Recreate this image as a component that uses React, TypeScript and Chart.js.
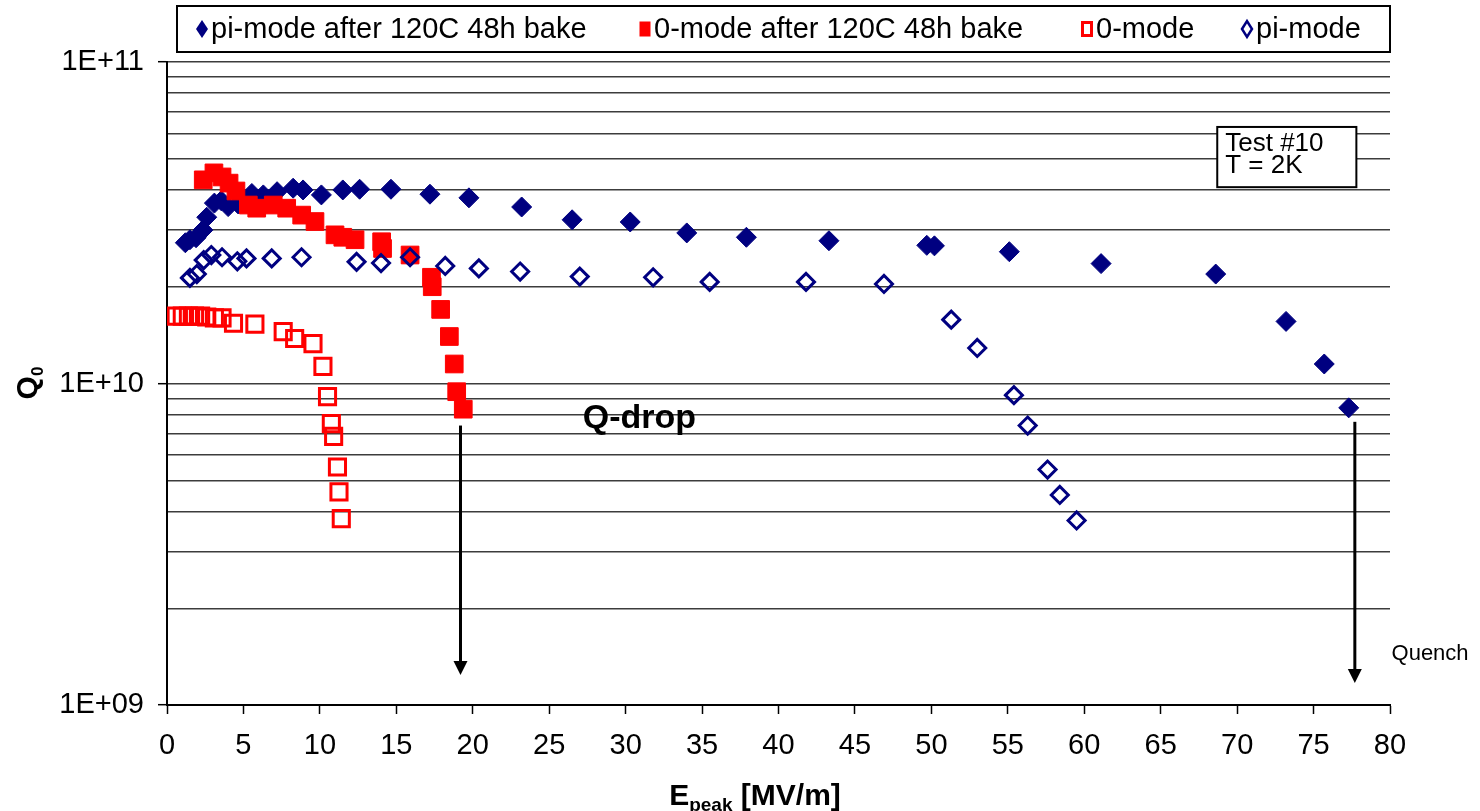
import React, { useEffect, useRef } from 'react';
import { Chart, registerables } from 'chart.js';

Chart.register(...registerables);

const NAVY = '#000080';
const RED = '#ff0000';
const SANS = "'Liberation Sans', Arial, sans-serif";

// Series names (legend order)
const seriesNames = ['pi-mode after 120C 48h bake', '0-mode after 120C 48h bake', '0-mode', 'pi-mode'];

// pi-mode after 120C 48h bake
const piBakedE = [1.2, 1.5, 1.9, 2.35, 2.6, 3.1, 3.55, 4.0, 4.65, 5.55, 6.3, 7.2, 8.25, 8.9, 10.1, 11.5, 12.6, 14.65, 17.2, 19.75, 23.2, 26.5, 30.3, 34.0, 37.9, 43.3, 49.7, 50.2, 55.1, 61.1, 68.6, 73.2, 75.7, 77.3];
const piBakedQ = [2.74e10, 2.8e10, 2.84e10, 3.0e10, 3.29e10, 3.64e10, 3.7e10, 3.55e10, 3.62e10, 3.9e10, 3.86e10, 3.95e10, 4.05e10, 4.0e10, 3.86e10, 4.0e10, 4.02e10, 4.02e10, 3.88e10, 3.78e10, 3.54e10, 3.23e10, 3.18e10, 2.94e10, 2.85e10, 2.78e10, 2.69e10, 2.68e10, 2.57e10, 2.36e10, 2.19e10, 1.56e10, 1.15e10, 8.4e9];

// 0-mode after 120C 48h bake
const zeroBakedE = [2.37, 3.07, 3.6, 4.06, 4.51, 5.32, 5.87, 6.95, 7.83, 8.81, 9.68, 10.99, 11.5, 12.3, 14.04, 14.1, 15.9, 17.3, 17.35, 17.9, 18.47, 18.79, 18.95, 19.38];
const zeroBakedQ = [4.3e10, 4.52e10, 4.39e10, 4.2e10, 3.97e10, 3.59e10, 3.51e10, 3.59e10, 3.51e10, 3.34e10, 3.19e10, 2.9e10, 2.85e10, 2.8e10, 2.76e10, 2.63e10, 2.51e10, 2.14e10, 2.0e10, 1.7e10, 1.4e10, 1.15e10, 9.43e9, 8.32e9];

// 0-mode
const zeroE = [0.6, 1.0, 1.4, 1.8, 2.2, 2.6, 3.1, 3.6, 4.35, 5.75, 7.6, 8.35, 9.55, 10.2, 10.5, 10.75, 10.9, 11.15, 11.25, 11.4];
const zeroQ = [1.62e10, 1.62e10, 1.62e10, 1.62e10, 1.62e10, 1.61e10, 1.6e10, 1.6e10, 1.54e10, 1.53e10, 1.45e10, 1.38e10, 1.33e10, 1.13e10, 9.1e9, 7.5e9, 6.85e9, 5.5e9, 4.6e9, 3.8e9];

// pi-mode
const piE = [1.5, 1.95, 2.4, 2.9, 3.6, 4.6, 5.2, 6.85, 8.8, 12.4, 14.0, 15.9, 18.2, 20.4, 23.1, 27.0, 31.8, 35.5, 41.8, 46.9, 51.3, 53.0, 55.4, 56.3, 57.6, 58.4, 59.5];
const piQ = [2.13e10, 2.19e10, 2.42e10, 2.51e10, 2.47e10, 2.4e10, 2.45e10, 2.45e10, 2.47e10, 2.39e10, 2.37e10, 2.47e10, 2.32e10, 2.28e10, 2.23e10, 2.15e10, 2.14e10, 2.07e10, 2.07e10, 2.04e10, 1.58e10, 1.29e10, 9.2e9, 7.4e9, 5.4e9, 4.5e9, 3.75e9];

// Axis ticks
const xTickStep = 5;
const yTicks = [1e9, 2e9, 3e9, 4e9, 5e9, 6e9, 7e9, 8e9, 9e9, 1e10, 2e10, 3e10, 4e10, 5e10, 6e10, 7e10, 8e10, 9e10, 1e11];

// Annotations: arrows (Q-drop and Quench), labels and the test box
const arrowE = [19.2, 77.7];
const arrowFromQ = [7.4e9, 7.6e9];
const arrowToQ = [1.24e9, 1.17e9];
const qDropLabel = { text: 'Q-drop', e: 30.9, q: 7.8e9 };
const quenchLabel = { text: 'Quench', e: 80.1, q: 1.44e9 };
const testBox = { lines: ['Test #10', 'T = 2K'], e0: 68.7, e1: 77.8, q0: 6.28e10, q1: 4.08e10 };

const pts = (xs: number[], ys: number[]) => xs.map((x, i) => ({ x, y: ys[i] }));

const isDecade = (v: number) => Math.abs(Math.log10(v) - Math.round(Math.log10(v))) < 1e-9;

const decorPlugin = {
  id: 'decor',
  afterDraw(chart: any) {
    const ctx: CanvasRenderingContext2D = chart.ctx;
    const xs = chart.scales.x;
    const ys = chart.scales.y;
    ctx.save();

    // Legend box
    ctx.lineWidth = 2;
    ctx.strokeStyle = '#000';
    ctx.fillStyle = '#fff';
    ctx.fillRect(177, 6, 1213, 46);
    ctx.strokeRect(177, 6, 1213, 46);
    const ly = 29;
    const mx = [202, 645, 1087, 1247];
    // markers
    ctx.fillStyle = NAVY;
    ctx.beginPath();
    ctx.moveTo(mx[0] - 6, ly); ctx.lineTo(mx[0], ly - 9); ctx.lineTo(mx[0] + 6, ly); ctx.lineTo(mx[0], ly + 9);
    ctx.closePath(); ctx.fill();
    ctx.fillStyle = RED;
    ctx.fillRect(mx[1] - 5.5, ly - 7.5, 11, 15);
    ctx.strokeStyle = RED; ctx.lineWidth = 3;
    ctx.strokeRect(mx[2] - 4.5, ly - 6.5, 9, 13);
    ctx.strokeStyle = NAVY; ctx.lineWidth = 2.5;
    ctx.beginPath();
    ctx.moveTo(mx[3] - 5, ly); ctx.lineTo(mx[3], ly - 8); ctx.lineTo(mx[3] + 5, ly); ctx.lineTo(mx[3], ly + 8);
    ctx.closePath(); ctx.stroke();
    ctx.fillStyle = '#000';
    ctx.font = `29px ${SANS}`;
    ctx.textBaseline = 'middle';
    ctx.textAlign = 'left';
    seriesNames.forEach((n, i) => ctx.fillText(n, mx[i] + 9, ly + 1));

    // Arrows
    ctx.strokeStyle = '#000';
    ctx.fillStyle = '#000';
    ctx.lineWidth = 3;
    arrowE.forEach((e, i) => {
      const x = xs.getPixelForValue(e);
      const y0 = ys.getPixelForValue(arrowFromQ[i]);
      const y1 = ys.getPixelForValue(arrowToQ[i]);
      ctx.beginPath();
      ctx.moveTo(x, y0);
      ctx.lineTo(x, y1 - 12);
      ctx.stroke();
      ctx.beginPath();
      ctx.moveTo(x - 7, y1 - 14);
      ctx.lineTo(x + 7, y1 - 14);
      ctx.lineTo(x, y1);
      ctx.closePath();
      ctx.fill();
    });

    // Q-drop label
    ctx.font = `bold 34px ${SANS}`;
    ctx.textAlign = 'center';
    ctx.textBaseline = 'middle';
    ctx.fillText(qDropLabel.text, xs.getPixelForValue(qDropLabel.e), ys.getPixelForValue(qDropLabel.q));

    // Quench label
    ctx.font = `22px ${SANS}`;
    ctx.textAlign = 'left';
    ctx.fillText(quenchLabel.text, xs.getPixelForValue(quenchLabel.e), ys.getPixelForValue(quenchLabel.q));

    // Test box
    const bx0 = xs.getPixelForValue(testBox.e0);
    const bx1 = xs.getPixelForValue(testBox.e1);
    const by0 = ys.getPixelForValue(testBox.q0);
    const by1 = ys.getPixelForValue(testBox.q1);
    ctx.fillStyle = '#fff';
    ctx.fillRect(bx0, by0, bx1 - bx0, by1 - by0);
    ctx.lineWidth = 2;
    ctx.strokeRect(bx0, by0, bx1 - bx0, by1 - by0);
    ctx.fillStyle = '#000';
    ctx.font = `26px ${SANS}`;
    ctx.textBaseline = 'middle';
    ctx.fillText(testBox.lines[0], bx0 + 8, by0 + 17);
    ctx.fillText(testBox.lines[1], bx0 + 8, by0 + 39);

    // Y axis title: Q with subscript 0
    ctx.save();
    ctx.translate(26, 383);
    ctx.rotate(-Math.PI / 2);
    ctx.textAlign = 'left';
    ctx.textBaseline = 'alphabetic';
    ctx.font = `bold 30px ${SANS}`;
    const wq = ctx.measureText('Q').width;
    ctx.font = `bold 17px ${SANS}`;
    const w0 = ctx.measureText('0').width;
    const startQ = -(wq + w0) / 2;
    ctx.font = `bold 30px ${SANS}`;
    ctx.fillText('Q', startQ, 11);
    ctx.font = `bold 17px ${SANS}`;
    ctx.fillText('0', startQ + wq, 17);
    ctx.restore();

    // X axis title: E with subscript peak, then unit
    ctx.textAlign = 'left';
    ctx.textBaseline = 'alphabetic';
    ctx.font = `bold 30px ${SANS}`;
    const wE = ctx.measureText('E').width;
    const wU = ctx.measureText(' [MV/m]').width;
    ctx.font = `bold 19px ${SANS}`;
    const wP = ctx.measureText('peak').width;
    const cx = 755;
    let tx = cx - (wE + wP + wU) / 2;
    const base = 805;
    ctx.font = `bold 30px ${SANS}`;
    ctx.fillText('E', tx, base);
    tx += wE;
    ctx.font = `bold 19px ${SANS}`;
    ctx.fillText('peak', tx, base + 6);
    tx += wP;
    ctx.font = `bold 30px ${SANS}`;
    ctx.fillText(' [MV/m]', tx, base);

    ctx.restore();
  },
};

export default function App() {
  const ref = useRef<HTMLCanvasElement>(null);

  useEffect(() => {
    const canvas = ref.current;
    if (!canvas) return;
    const chart = new Chart(canvas, {
      type: 'scatter',
      data: {
        datasets: [
          {
            label: seriesNames[0],
            data: pts(piBakedE, piBakedQ),
            pointStyle: 'rectRot',
            pointRadius: 10,
            backgroundColor: NAVY,
            borderColor: NAVY,
            borderWidth: 1,
            order: 3,
          },
          {
            label: seriesNames[1],
            data: pts(zeroBakedE, zeroBakedQ),
            pointStyle: 'rect',
            pointRadius: 12.5,
            backgroundColor: RED,
            borderColor: RED,
            borderWidth: 1,
            order: 2,
          },
          {
            label: seriesNames[2],
            data: pts(zeroE, zeroQ),
            pointStyle: 'rect',
            pointRadius: 11.4,
            backgroundColor: 'rgba(0,0,0,0)',
            borderColor: RED,
            borderWidth: 3,
            order: 1,
          },
          {
            label: seriesNames[3],
            data: pts(piE, piQ),
            pointStyle: 'rectRot',
            pointRadius: 8.5,
            backgroundColor: 'rgba(0,0,0,0)',
            borderColor: NAVY,
            borderWidth: 3,
            order: 0,
          },
        ],
      },
      options: {
        responsive: false,
        animation: false,
        devicePixelRatio: 1,
        layout: { padding: { top: 62, right: 90, left: 0, bottom: 0 } },
        plugins: {
          legend: { display: false },
          tooltip: { enabled: false },
          title: { display: false },
        },
        scales: {
          x: {
            type: 'linear',
            min: 0,
            max: 80,
            ticks: {
              stepSize: xTickStep,
              color: '#000',
              font: { family: SANS, size: 29 },
              padding: 15,
              maxRotation: 0,
              autoSkip: false,
            },
            grid: {
              drawOnChartArea: false,
              drawTicks: true,
              tickLength: 9,
              tickColor: '#000',
              tickWidth: 1.5,
            },
            border: { display: true, color: '#000', width: 2 },
            afterFit: (s: any) => {
              s.height = 106;
            },
          },
          y: {
            type: 'logarithmic',
            min: 1e9,
            max: 1e11,
            afterBuildTicks: (s: any) => {
              s.ticks = yTicks.map((v) => ({ value: v, major: isDecade(v) }));
            },
            ticks: {
              autoSkip: false,
              color: '#000',
              font: { family: SANS, size: 29 },
              padding: 14,
              callback: (v: any) => {
                const n = Number(v);
                if (!isDecade(n)) return '';
                const exp = Math.round(Math.log10(n));
                return `1E+${String(exp).padStart(2, '0')}`;
              },
            },
            grid: {
              color: '#3c3c3c',
              lineWidth: 1.4,
              drawTicks: true,
              tickLength: 9,
              tickColor: (c: any) => (c.tick && isDecade(c.tick.value) ? '#000' : 'rgba(0,0,0,0)'),
              tickWidth: 1.5,
            },
            border: { display: true, color: '#000', width: 2 },
            afterFit: (s: any) => {
              s.width = 167;
            },
          },
        },
      },
      plugins: [decorPlugin],
    } as any);
    return () => chart.destroy();
  }, []);

  return (
    <div style={{ position: 'fixed', left: 0, top: 0, width: 1480, height: 811, background: '#fff' }}>
      <canvas ref={ref} width={1480} height={811} style={{ display: 'block' }} />
    </div>
  );
}
